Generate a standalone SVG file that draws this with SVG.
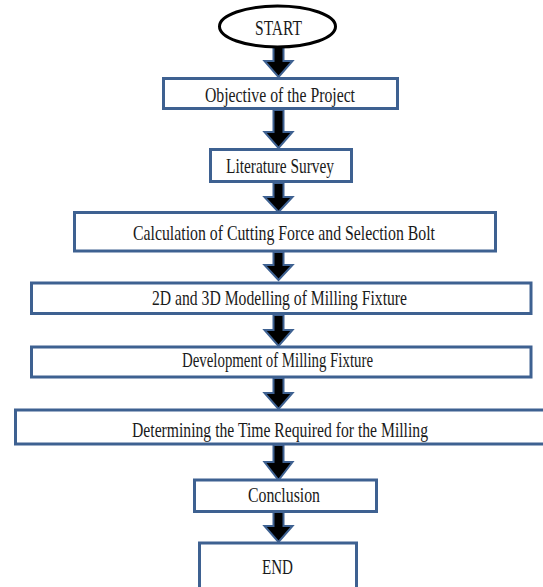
<svg xmlns="http://www.w3.org/2000/svg" width="543" height="587" viewBox="0 0 543 587">
<style>
.box{fill:#fff;stroke:#3e6191;stroke-width:3}
.arr{fill:#000;stroke:#3e6191;stroke-width:2;stroke-linejoin:miter}
text{font-family:"Liberation Serif","Times New Roman",serif;font-size:21px;fill:#1a1a1a;text-anchor:middle}
</style>
<rect width="543" height="587" fill="#fff"/>
<g id="connectors">
<path class="arr" d="M273.5,44 H283.5 V61 H292.5 L278.5,77 L264.5,61 H273.5 Z"/>
<path class="arr" d="M273.5,110 H283.5 V132 H292.5 L278.5,148 L264.5,132 H273.5 Z"/>
<path class="arr" d="M273.5,183 H283.5 V197 H292.5 L278.5,212 L264.5,197 H273.5 Z"/>
<path class="arr" d="M273.5,252 H283.5 V265 H292.5 L278.5,280 L264.5,265 H273.5 Z"/>
<path class="arr" d="M273.5,315 H283.5 V330 H292.5 L278.5,346 L264.5,330 H273.5 Z"/>
<path class="arr" d="M273.5,378 H283.5 V393 H292.5 L278.5,409 L264.5,393 H273.5 Z"/>
<path class="arr" d="M273.5,445 H283.5 V462 H292.5 L278.5,480 L264.5,462 H273.5 Z"/>
<path class="arr" d="M273.5,512 H283.5 V526 H292.5 L278.5,542 L264.5,526 H273.5 Z"/>
</g>
<g id="start">
<ellipse cx="277.5" cy="26.5" rx="58" ry="20.5" fill="#fff" stroke="#000" stroke-width="3"/>
<text x="278.5" y="35" textLength="47" lengthAdjust="spacingAndGlyphs">START</text>
</g>
<g id="objective">
<rect class="box" x="163.5" y="78.5" width="234" height="30"/>
<text x="280" y="102" textLength="150" lengthAdjust="spacingAndGlyphs">Objective of the Project</text>
</g>
<g id="literature">
<rect class="box" x="210.5" y="149.5" width="141" height="32"/>
<text x="280" y="173" textLength="108" lengthAdjust="spacingAndGlyphs">Literature Survey</text>
</g>
<g id="calculation">
<rect class="box" x="74.5" y="212.5" width="421" height="38.5"/>
<text x="284" y="240" textLength="302" lengthAdjust="spacingAndGlyphs">Calculation of Cutting Force and Selection Bolt</text>
</g>
<g id="modelling">
<rect class="box" x="31.5" y="283" width="499.5" height="30.5"/>
<text x="279.5" y="305" textLength="255" lengthAdjust="spacingAndGlyphs">2D and 3D Modelling of Milling Fixture</text>
</g>
<g id="development">
<rect class="box" x="31.5" y="347" width="499.5" height="30"/>
<text x="277.5" y="367" textLength="191" lengthAdjust="spacingAndGlyphs">Development of Milling Fixture</text>
</g>
<g id="determining">
<rect class="box" x="15.5" y="410" width="535" height="34"/>
<text x="280" y="437" textLength="296" lengthAdjust="spacingAndGlyphs">Determining the Time Required for the Milling</text>
</g>
<g id="conclusion">
<rect class="box" x="194.5" y="480" width="182" height="31.5"/>
<text x="284" y="502" textLength="72" lengthAdjust="spacingAndGlyphs">Conclusion</text>
</g>
<g id="end">
<rect class="box" x="199.5" y="543" width="157" height="50"/>
<text x="277.5" y="574" textLength="31" lengthAdjust="spacingAndGlyphs">END</text>
</g>
</svg>
